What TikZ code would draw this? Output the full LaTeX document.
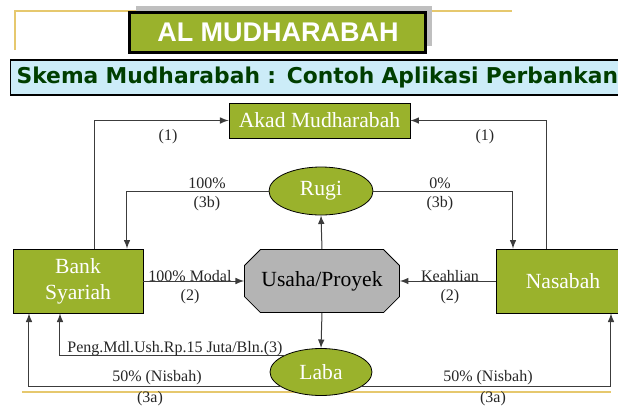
\documentclass[tikz,border=0pt]{standalone}
\usepackage{fontspec}
\setmainfont{Liberation Serif}
\newfontfamily\titlefont{Liberation Sans}
\newfontfamily\subfont{DejaVu Sans}
\usetikzlibrary{shapes.geometric,shapes.misc,shadows,calc}
\definecolor{boxgreen}{RGB}{154,178,44}
\definecolor{subblue}{RGB}{204,236,248}
\definecolor{subgreen}{RGB}{0,62,0}
\definecolor{linegray}{RGB}{60,60,60}
\definecolor{goldline}{RGB}{230,200,110}
\definecolor{octgray}{RGB}{180,180,180}
\begin{document}
\begin{tikzpicture}[x=0.5pt,y=-0.5pt]
        \tikzset{
            greenbox/.style={rectangle,draw=black,fill=boxgreen,text=white,inner sep=0pt,
                font=\fontsize{10.8}{13}\selectfont,align=center},
            greenoval/.style={ellipse,draw=black,fill=boxgreen,text=white,inner sep=0pt,
                font=\fontsize{10.8}{13}\selectfont},
            link/.style={->,>=latex,draw=linegray,line width=0.5pt},
            lbl/.style={font=\fontsize{8}{9.5}\selectfont,inner sep=0pt,text=black!85}
        }
        \useasboundingbox (0,0) rectangle (618,419);

        \draw[goldline,line width=0.6pt] (15,50) |- (512,11);
        \draw[goldline,line width=0.6pt] (22,392) -- (611,392);

        \node[rectangle,draw=black,line width=1.5pt,fill=boxgreen,text=white,
            minimum width=148pt,minimum height=20pt,
            font=\titlefont\bfseries\fontsize{13.5}{15}\selectfont,
            drop shadow={shadow xshift=3pt,shadow yshift=3pt,fill=black!25,opacity=1}]
            (title) at (278,32) {AL MUDHARABAH};
        \node[rectangle,draw=black,line width=0.6pt,fill=subblue,text=subgreen,anchor=west,
            minimum width=307.5pt,minimum height=17.5pt,inner xsep=3pt,text width=304pt,
            font=\subfont\bfseries\fontsize{10.9}{12}\selectfont]
            (sub) at (10,77.5) {Skema Mudharabah : Contoh Aplikasi Perbankan};

        \node[greenbox,minimum width=90.5pt,minimum height=17.5pt] (akad) at (319.5,120.5) {Akad Mudharabah};
        \node[greenoval,minimum width=52pt,minimum height=24pt] (rugi) at (321,191) {Rugi};
        \node[chamfered rectangle,chamfered rectangle xsep=5.5pt,draw=black,fill=octgray,
            inner sep=0pt,minimum width=77.5pt,minimum height=31.5pt,
            font=\fontsize{10.8}{13}\selectfont] (usaha) at (322,281) {Usaha/Proyek};
        \node[greenbox,minimum width=65pt,minimum height=32pt] (bank) at (78,281) {Bank\\Syariah};
        \node[greenbox,minimum width=67pt,minimum height=32pt] (nasabah) at (563,281) {Nasabah};
        \node[greenoval,minimum width=51pt,minimum height=23.5pt] (laba) at (321,372) {Laba};

        \draw[link] (bank.north) ++(17,0) |- (akad.west);
        \draw[link] (nasabah.north) ++(-16,0) |- (akad.east);
        \draw[link] (rugi.west) -| ($(bank.north)+(49,0)$);
        \draw[link] (rugi.east) -| ($(nasabah.north)+(-50,0)$);
        \draw[link] (usaha.north) -- (rugi.south);
        \draw[link] (bank.east) -- (usaha.west);
        \draw[link] (nasabah.west) -- (usaha.east);
        \draw[link] (usaha.south) -- (laba.north);
        \draw[link] (laba.155) -| ($(bank.south)+(-18,0)$);
        \draw[link] (laba.200) -| ($(bank.south)+(-49,0)$);
        \draw[link] (laba.340) -| ($(nasabah.south)+(48,0)$);

        \node[lbl] (l1a) at (168,137) {(1)};
        \node[lbl] (l1b) at (485,137) {(1)};
        \node[lbl] (l3ba) at (207,183) {100\%};
        \node[lbl] (l3bb) at (207,204) {(3b)};
        \node[lbl] (l3bc) at (440,183) {0\%};
        \node[lbl] (l3bd) at (440,204) {(3b)};
        \node[lbl] (l2a) at (190,276) {100\% Modal};
        \node[lbl] (l2b) at (190,297) {(2)};
        \node[lbl] (l2c) at (450,276) {Keahlian};
        \node[lbl] (l2d) at (450,297) {(2)};
        \node[lbl,anchor=west] (l3) at (67,349) {Peng.Mdl.Ush.Rp.15 Juta/Bln.(3)};
        \node[lbl] (l3aa) at (157,378) {50\% (Nisbah)};
        \node[lbl] (l3ab) at (150,399) {(3a)};
        \node[lbl] (l3ac) at (488,378) {50\% (Nisbah)};
        \node[lbl] (l3ad) at (493,399) {(3a)};

    \end{tikzpicture}
\end{document}
